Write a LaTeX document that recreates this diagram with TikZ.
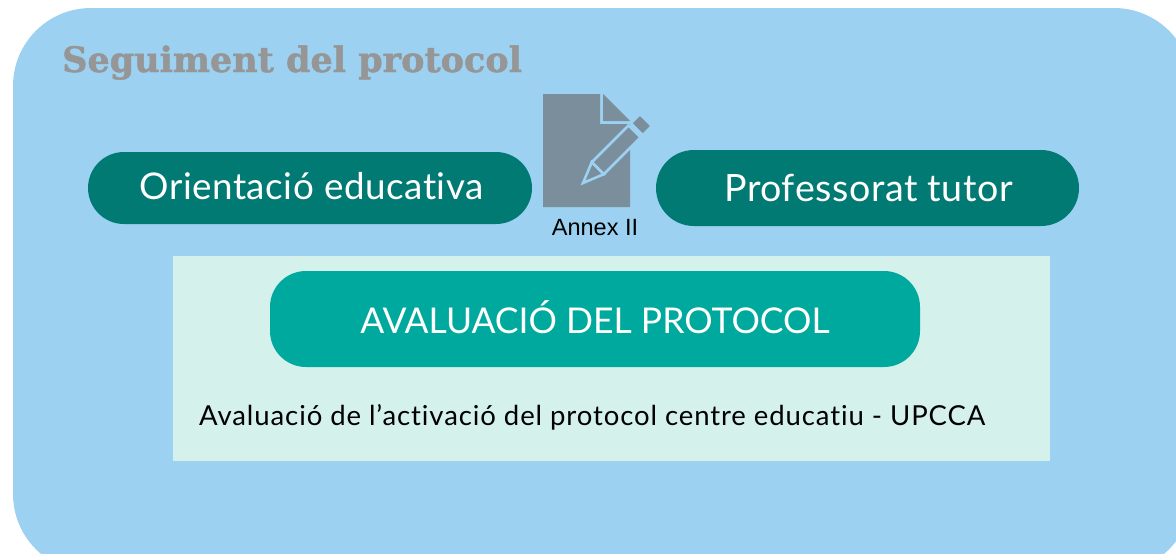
\documentclass[tikz,border=0pt]{standalone}
\usepackage{fontspec}
\setmainfont[RawFeature={-liga}]{Lato}
\newfontfamily\titlefont[UprightFont=* Bold,FakeBold=1.4]{DejaVu Serif}
\newfontfamily\annexfont{Liberation Sans}
\newfontfamily\spacedfont[RawFeature={-liga},LetterSpace=1.5]{Lato}
\newfontfamily\widefont[RawFeature={-liga},LetterSpace=3.3]{Lato}
\definecolor{bgblue}{HTML}{9CD1F1}
\definecolor{darkteal}{HTML}{007A72}
\definecolor{midteal}{HTML}{00A99D}
\definecolor{paleteal}{HTML}{D5F1EC}
\definecolor{docgrey}{HTML}{7A8E9C}
\definecolor{titlegrey}{HTML}{969696}
\tikzset{
  pilltext/.style={text=white,inner sep=0pt},
  docpart/.style={fill=docgrey,draw=bgblue,line width=2.6pt,line join=miter}
}
\begin{document}
\begin{tikzpicture}[x=1pt,y=-1pt]
\useasboundingbox (0,0) rectangle (1176,554);
\clip (0,0) rectangle (1176,554);
\fill[bgblue,rounded corners=78pt] (13,8) rectangle (1192,572);
\node[anchor=base west,inner sep=0pt,text=titlegrey,font=\titlefont\fontsize{35}{38}\selectfont] (title) at (62,72) {Seguiment del protocol};
\fill[darkteal,rounded corners=36pt] (88,152) rectangle (532,224);
\node[pilltext,font=\spacedfont\fontsize{36.8}{40}\selectfont] (orient) at (311.5,186) {Orientació educativa};
\fill[darkteal,rounded corners=38pt] (656,150) rectangle (1079,226);
\node[pilltext,font=\spacedfont\fontsize{37.6}{40}\selectfont] (tutor) at (868.5,188) {Professorat tutor};
\fill[paleteal] (173,256) rectangle (1050,461);
\fill[midteal,rounded corners=36pt] (270,271) rectangle (920,367);
\node[pilltext,font=\fontsize{35.5}{40}\selectfont] (aval) at (595,317) {AVALUACIÓ DEL PROTOCOL};
\node[anchor=base west,inner sep=0pt,text=black,font=\widefont\fontsize{27.5}{32}\selectfont] (act) at (199,425) {Avaluació de l’activació del protocol centre educatiu - UPCCA};
% document icon
\fill[docgrey] (543,94) -- (600,94) -- (600,124) -- (630,124) -- (630,207) -- (543,207) -- cycle;
\fill[docgrey] (603,94) -- (630,121) -- (603,121) -- cycle;
\begin{scope}[shift={(583,183)},x={(0.7071pt,0.7071pt)},y={(0.7071pt,-0.7071pt)}]
  \path[docpart] (0,0) -- (21,-8.5) -- (21,8.5) -- cycle;
  \path[docpart] (21,-8.5) -- (73,-8.5) -- (73,8.5) -- (21,8.5) -- cycle;
  \path[docpart,rounded corners=2pt] (76,-8.5) -- (89,-8.5) -- (89,8.5) -- (76,8.5) -- cycle;
\end{scope}
\node[inner sep=0pt,text=black,font=\annexfont\fontsize{23.5}{26}\selectfont] (annex) at (595,228) {Annex II};
\end{tikzpicture}
\end{document}
